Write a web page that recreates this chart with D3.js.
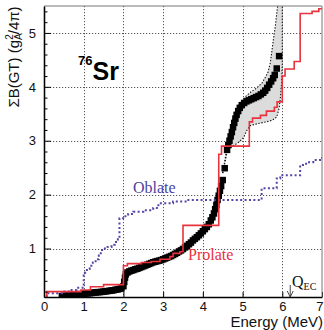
<!DOCTYPE html>
<html><head><meta charset="utf-8">
<script src="https://cdn.jsdelivr.net/npm/d3@7"></script>
<style>
html,body{margin:0;padding:0;background:#fff;}
svg{display:block;}
</style>
</head><body>
<svg id="chart" width="324" height="330"></svg>
<script>
// ---------- data ----------
const xTicks = [0,1,2,3,4,5,6,7];
const yTicks = [1,2,3,4,5];
const yMinor = [0.2,0.4,0.6,0.8,1.2,1.4,1.6,1.8,2.2,2.4,2.6,2.8,3.2,3.4,3.6,3.8,4.2,4.4,4.6,4.8,5.2,5.4];

// experimental cumulative B(GT) (squares)
const expE = [0.45,0.50,0.55,0.60,0.65,0.70,0.75,0.80,0.85,0.90,0.95,1.00,1.05,1.10,1.15,1.20,1.25,1.30,1.35,1.40,
  1.45,1.50,1.55,1.60,1.65,1.70,1.75,1.80,1.85,1.90,1.95,2.00,2.02,2.04,2.06,2.10,2.15,2.20,2.25,2.30,
  2.35,2.40,2.45,2.50,2.55,2.60,2.65,2.70,2.75,2.80,2.85,2.90,2.95,3.00,3.05,3.10,3.15,3.20,3.25,3.30,
  3.35,3.40,3.45,3.50,3.55,3.60,3.65,3.70,3.75,3.80,3.85,3.90,3.95,4.00,4.05,4.10,4.15,4.20,4.24,4.28,
  4.31,4.34,4.37,4.40,4.43,4.46,4.50,4.55,4.61,4.64,4.67,4.70,4.73,4.76,4.79,4.82,4.85,4.89,4.93,4.98,
  5.04,5.10,5.16,5.22,5.28,5.34,5.40,5.46,5.52,5.57,5.62,5.67,5.72,5.77,5.81,5.86,5.92];
const expB = [0.115,0.12,0.12,0.125,0.13,0.135,0.14,0.145,0.15,0.15,0.155,0.16,0.165,0.17,0.17,0.175,0.18,0.185,0.19,0.19,
  0.195,0.20,0.205,0.21,0.215,0.22,0.225,0.235,0.24,0.25,0.26,0.30,0.38,0.46,0.52,0.555,0.575,0.59,0.60,0.615,
  0.625,0.64,0.655,0.67,0.685,0.70,0.715,0.73,0.745,0.755,0.765,0.775,0.785,0.80,0.815,0.83,0.845,0.86,0.88,0.90,
  0.92,0.945,0.965,0.99,1.02,1.05,1.08,1.11,1.15,1.18,1.21,1.245,1.28,1.32,1.36,1.40,1.45,1.52,1.58,1.65,
  1.73,1.81,1.90,1.98,2.07,2.16,2.27,2.49,2.83,2.92,3.00,3.08,3.16,3.25,3.33,3.41,3.48,3.55,3.61,3.66,
  3.70,3.73,3.75,3.77,3.79,3.81,3.83,3.86,3.89,3.93,3.98,4.04,4.10,4.16,4.22,4.34,4.57];

// uncertainty band
const bandUpperE = [4.50,4.58,4.65,4.72,4.80,4.90,5.06,5.20,5.36,5.50,5.64,5.70,5.74,5.78,5.82,5.87,5.90];
const bandUpperB = [2.40,2.75,3.05,3.30,3.50,3.65,3.81,3.90,3.98,4.08,4.27,4.45,4.68,4.90,5.10,5.42,5.60];
const bandLowerE = [4.50,4.62,4.75,4.90,5.02,5.10,5.19,5.40,5.60,5.75,5.86,5.92,5.95,5.98,6.00,6.00];
const bandLowerB = [2.40,2.82,2.90,2.97,3.05,3.18,3.28,3.32,3.35,3.38,3.44,3.60,3.78,4.05,4.40,5.60];

// Prolate (step)
const prolateE = [0.07,0.07,0.93,1.17,1.5,2.0,2.1,2.45,2.7,2.92,3.17,3.25,3.42,3.5,4.4,4.47,5.17,5.25,5.45,5.6,5.8,5.87,6.0,6.07,6.3,6.45,6.75,6.92,7.0];
const prolateB = [0.1,0.2,0.23,0.29,0.33,0.68,0.72,0.74,0.76,0.8,0.85,0.91,0.94,1.43,2.75,2.9,3.35,3.42,3.47,3.55,3.62,3.72,4.2,4.33,4.47,5.36,5.4,5.45,5.45];

// Oblate (step)
const oblateE = [0.07,0.07,0.45,0.65,0.82,1.0,1.03,1.08,1.15,1.23,1.3,1.38,1.43,1.5,1.6,1.7,1.78,1.86,1.9,2.05,2.12,2.25,2.5,2.75,2.88,3.25,3.6,5.48,5.86,5.95,6.45,6.6,6.78,6.95,7.0];
const oblateB = [0.1,0.17,0.2,0.23,0.27,0.5,0.55,0.62,0.68,0.74,0.8,0.87,0.97,1.0,1.03,1.07,1.12,1.17,1.56,1.6,1.64,1.68,1.71,1.75,1.84,1.87,1.9,2.12,2.3,2.36,2.55,2.6,2.64,2.68,2.7];

const qecE = 6.2;

// ---------- layout ----------
const svg = d3.select("#chart");
const L = 44, R = 322, T = 6, B = 297;
const x = d3.scaleLinear().domain([0,7]).range([L,R]);
const y = d3.scaleLinear().domain([0.1,5.5]).range([B,T]);
const SANS = "'Liberation Sans', Arial, Helvetica, sans-serif";
const SERIF = "'Liberation Serif', 'Times New Roman', serif";

svg.append("defs").append("clipPath").attr("id","clip")
  .append("rect").attr("x",L).attr("y",T).attr("width",R-L).attr("height",B-T);

// grid
const grid = svg.append("g").attr("stroke","#555").attr("stroke-width",1).attr("stroke-dasharray","1.2,1.8");
grid.selectAll("line.v").data(xTicks.filter(d=>d>0&&d<7)).join("line")
  .attr("x1",d=>Math.round(x(d))+0.5).attr("x2",d=>Math.round(x(d))+0.5).attr("y1",T).attr("y2",B);
grid.selectAll("line.h").data(yTicks).join("line")
  .attr("y1",d=>Math.round(y(d))+0.5).attr("y2",d=>Math.round(y(d))+0.5).attr("x1",L).attr("x2",R);

const plot = svg.append("g").attr("clip-path","url(#clip)");

// band
const bandPts = bandUpperE.map((e,i)=>[e,bandUpperB[i]])
  .concat(bandLowerE.map((e,i)=>[e,bandLowerB[i]]).reverse());
plot.append("path").datum(bandPts)
  .attr("d", d3.line().x(d=>x(d[0])).y(d=>y(d[1])))
  .attr("fill","#dcdcdc").attr("stroke","none");
[[bandUpperE,bandUpperB],[bandLowerE,bandLowerB]].forEach(([es,bs])=>{
  plot.append("path").datum(es.map((e,i)=>[e,bs[i]]))
    .attr("d", d3.line().x(d=>x(d[0])).y(d=>y(d[1])))
    .attr("fill","none").attr("stroke","#111").attr("stroke-width",1.1).attr("stroke-dasharray","1.4,1.6");
});

// experimental squares
const sq = 6.5;
plot.append("g").selectAll("rect").data(expE.map((e,i)=>[e,expB[i]])).join("rect")
  .attr("x",d=>x(d[0])-sq/2).attr("y",d=>y(d[1])-sq/2).attr("width",sq).attr("height",sq).attr("fill","#000");

// oblate
const step = d3.line().x(d=>x(d[0])).y(d=>y(d[1])).curve(d3.curveStepAfter);
plot.append("path").datum(oblateE.map((e,i)=>[e,oblateB[i]]))
  .attr("d",step).attr("fill","none").attr("stroke","#5246a6").attr("stroke-width",2)
  .attr("stroke-dasharray","2,2.4");

// prolate
plot.append("path").datum(prolateE.map((e,i)=>[e,prolateB[i]]))
  .attr("d",step).attr("fill","none").attr("stroke","#e8323c").attr("stroke-width",1.6);

// axes
const yAx = svg.append("g").attr("transform",`translate(${L},0)`)
  .call(d3.axisLeft(y).tickValues(yTicks).tickSize(-7).tickSizeOuter(0).tickPadding(8).tickFormat(d3.format("d")));
const yAxm = svg.append("g").attr("transform",`translate(${L},0)`)
  .call(d3.axisLeft(y).tickValues(yMinor).tickSize(-3.5).tickSizeOuter(0).tickFormat(""));
const xAx = svg.append("g").attr("transform",`translate(0,${B})`)
  .call(d3.axisBottom(x).tickValues(xTicks).tickSize(-5).tickSizeOuter(0).tickPadding(5).tickFormat(d3.format("d")));
[yAx,yAxm,xAx].forEach(g=>{
  g.select(".domain").attr("stroke","#000").attr("stroke-width",1.3);
  g.selectAll(".tick line").attr("stroke","#000").attr("stroke-width",1);
  g.selectAll("text").attr("font-family",SANS).attr("font-size",13).attr("fill","#111");
});
xAx.selectAll(".tick text").filter(d=>d===7).attr("text-anchor","end").attr("dx",1);
// top/right frame
svg.append("path").attr("d",`M${L},${T}H${R}V${B}`).attr("fill","none").attr("stroke","#777").attr("stroke-width",1);

// labels
const yl = svg.append("text").attr("transform","translate(19,57) rotate(-90)")
  .attr("text-anchor","middle").attr("font-family",SANS).attr("font-size",15).attr("fill","#111");
yl.append("tspan").text("ΣB(GT) (g");
yl.append("tspan").attr("font-size",10).attr("dy",3).text("A");
yl.append("tspan").attr("font-size",10).attr("dx",-6.5).attr("dy",-9).text("2");
yl.append("tspan").attr("dy",6).text("/4π)");

svg.append("text").attr("x",R+1).attr("y",327).attr("text-anchor","end")
  .attr("font-family",SANS).attr("font-size",15).attr("fill","#111").text("Energy (MeV)");

const sr = svg.append("text").attr("x",78).attr("y",80).attr("font-family",SANS).attr("font-weight","bold").attr("fill","#000");
sr.append("tspan").attr("font-size",13).attr("dy",-15).text("76");
sr.append("tspan").attr("font-size",25).attr("dy",15).text("Sr");

svg.append("text").attr("x",133).attr("y",193).attr("font-family",SERIF).attr("font-size",16)
  .attr("fill","#4a3fa0").text("Oblate");
svg.append("text").attr("x",188).attr("y",259.5).attr("font-family",SERIF).attr("font-size",16)
  .attr("fill","#e8323c").text("Prolate");

// Q_EC
const q = svg.append("text").attr("x",292).attr("y",287).attr("font-family",SERIF).attr("fill","#111");
q.append("tspan").attr("font-size",16).text("Q");
q.append("tspan").attr("font-size",10).attr("dy",3).text("EC");
const qa = svg.append("g").attr("stroke","#333").attr("stroke-width",0.9).attr("fill","none");
qa.append("line").attr("x1",x(qecE)).attr("x2",x(qecE)).attr("y1",285).attr("y2",297);
qa.append("path").attr("d",`M${x(qecE)-3},${291}L${x(qecE)},${297}L${x(qecE)+3},${291}`);
</script>
</body></html>
